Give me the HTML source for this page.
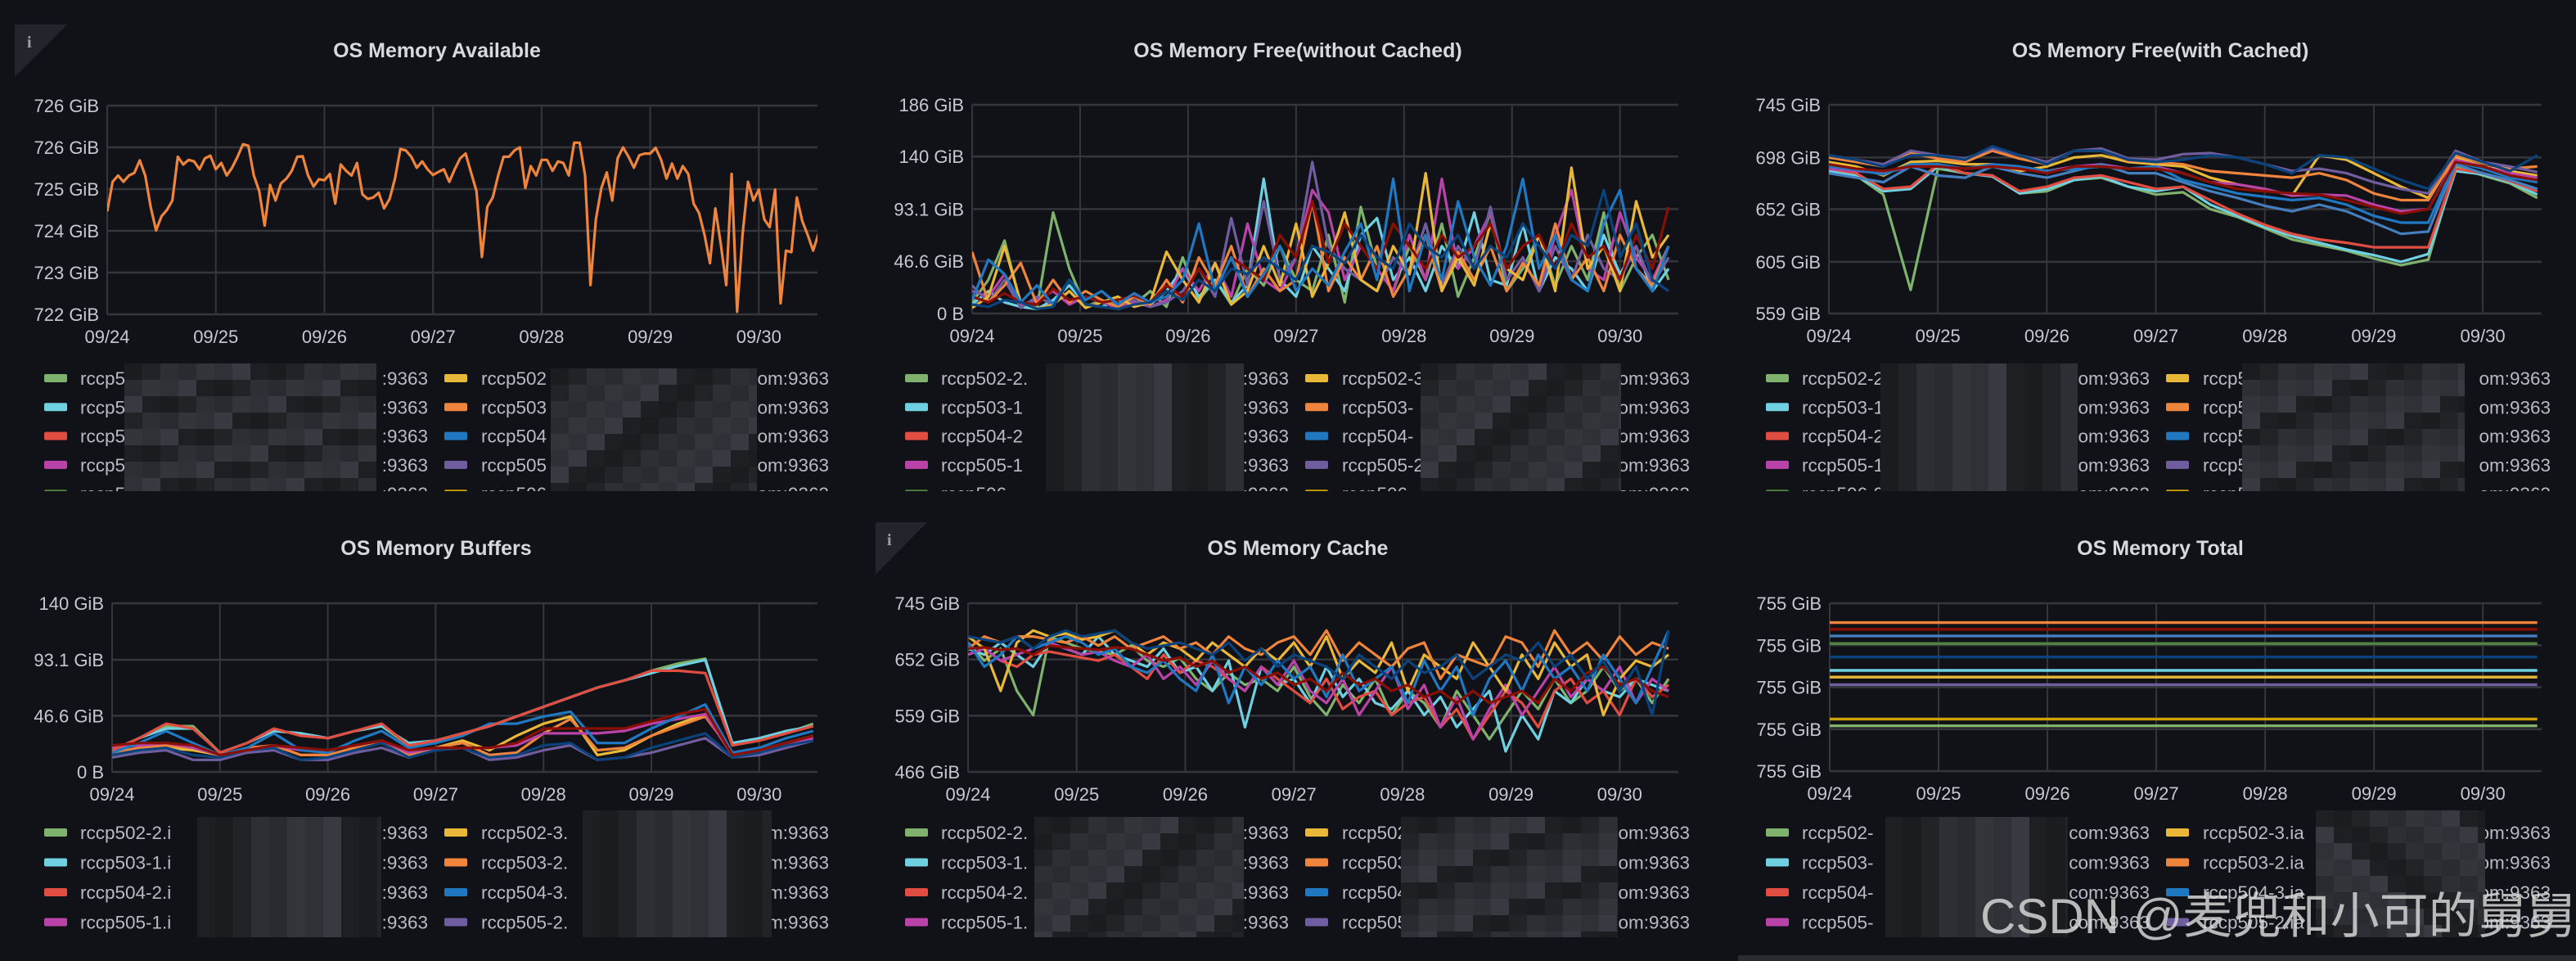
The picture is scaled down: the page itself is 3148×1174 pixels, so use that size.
<!DOCTYPE html>
<html><head><meta charset="utf-8">
<style>
html,body{margin:0;padding:0;background:#111217;}
svg{display:block;font-family:"Liberation Sans","Noto Sans CJK SC",sans-serif;}
</style></head>
<body>
<svg id="dash" width="3148" height="1174" viewBox="0 0 3148 1174" xmlns="http://www.w3.org/2000/svg">
<rect x="0" y="0" width="3148" height="1174" fill="#111217"/>
<g><path d="M18 30 L82 30 L18 94 Z" fill="#22252b"/><text x="33" y="58" font-size="20" font-weight="bold" fill="#9fa1a8" font-family="Liberation Serif, serif">i</text></g>
<g><path d="M1070 638 L1133 638 L1070 702 Z" fill="#22252b"/><text x="1084" y="666" font-size="20" font-weight="bold" fill="#9fa1a8" font-family="Liberation Serif, serif">i</text></g>
<rect x="2124" y="1167" width="1024" height="7" fill="#2a2c31"/>
</svg>
<script>
const dayLabels = ["09/24","09/25","09/26","09/27","09/28","09/29","09/30"];
const dayTicks = [0,1,2,3,4,5,6];
const spanDays = 6.54;

const availStep = 0.05;
const availValues = [723.97,724.54,724.66,724.54,724.66,724.71,724.95,724.66,724.06,723.61,723.88,724.00,724.18,725.02,724.87,724.96,724.93,724.78,724.99,725.04,724.78,724.90,724.66,724.81,725.02,725.26,725.23,724.66,724.36,723.70,724.48,724.18,724.51,724.60,724.75,725.02,725.03,724.66,724.45,724.59,724.57,724.69,724.12,724.87,724.75,724.66,724.90,724.30,724.21,724.24,724.33,724.03,724.21,724.60,725.17,725.14,725.02,724.81,724.93,724.78,724.67,724.73,724.78,724.54,724.78,724.99,725.08,724.72,724.36,723.10,724.06,724.24,724.66,725.02,725.02,725.14,725.20,724.42,724.84,724.66,724.96,724.96,724.75,724.93,724.90,724.66,725.29,725.29,724.66,722.56,723.82,724.42,724.72,724.18,724.99,725.20,725.02,724.81,725.05,725.08,725.08,725.19,724.96,724.60,724.89,724.60,724.84,724.69,724.12,723.94,723.52,722.98,724.03,723.34,722.56,724.69,722.05,723.52,724.54,724.18,724.39,723.82,723.67,724.39,722.21,723.22,723.19,724.24,723.79,723.52,723.22,723.55];
const availTickVals = [722,722.8,723.6,724.4,725.2,726];
const availTickLabels = ["722 GiB","723 GiB","724 GiB","725 GiB","726 GiB","726 GiB"];

const freeStep = 0.15;
const freeGreen = [10,30,65,8,5,90,40,6,12,4,8,20,6,50,12,30,8,40,25,60,30,20,70,10,95,40,20,60,30,80,15,50,90,20,40,70,25,60,30,90,20,50,70,30];
const freeYellow = [5,15,60,10,4,8,20,5,10,15,6,10,55,30,10,45,8,20,60,25,80,15,45,90,30,20,60,35,125,20,50,25,80,40,30,70,20,130,40,60,20,100,50,70];
const freeCyan = [8,20,10,6,4,12,25,8,6,12,10,8,20,40,15,30,10,25,120,30,15,60,40,20,70,85,30,50,20,60,40,90,30,25,80,20,50,40,20,70,35,60,20,40];
const freeOrange = [55,10,25,45,8,30,10,20,12,6,15,8,30,10,50,25,60,15,40,20,30,100,20,50,30,60,15,40,70,20,55,30,60,20,45,25,80,30,50,20,70,40,25,60];
const freeBlue = [12,48,35,10,25,8,30,12,20,8,18,10,15,30,80,20,50,15,35,60,20,40,25,55,80,30,120,20,70,30,100,50,25,60,120,40,70,30,20,80,110,40,20,60];
const freeMagenta = [20,15,35,8,12,20,8,15,10,5,10,6,12,40,20,45,15,80,30,20,50,110,90,30,60,40,20,70,30,120,40,60,90,30,50,20,70,110,40,30,90,50,30,60];
const freePurple = [25,10,30,5,15,8,20,6,10,8,12,6,10,20,40,15,85,25,100,30,50,135,60,40,30,20,50,35,80,25,60,40,95,30,50,20,60,30,70,40,30,60,25,50];
const freeDarkRed = [15,10,18,10,8,22,12,15,10,12,16,10,25,15,40,20,50,40,30,70,50,100,45,80,60,40,80,60,40,70,50,60,80,40,60,70,40,80,50,60,30,70,40,95];
const freeDarkBlue = [8,6,12,10,4,6,30,8,6,4,8,10,20,12,30,20,40,35,50,40,30,60,55,45,70,50,40,80,60,50,70,40,60,50,80,60,40,70,60,110,50,80,30,20];
const freeTickVals = [0,46.6,93.1,140,186];
const freeTickLabels = ["0 B","46.6 GiB","93.1 GiB","140 GiB","186 GiB"];

const fcStep = 0.25;
const fcGreen = [685,682,665,580,688,684,682,666,668,678,680,672,665,667,652,645,635,625,620,615,608,602,607,690,682,675,662];
const fcRed = [688,684,670,672,692,684,682,668,672,680,682,676,670,672,660,648,638,630,625,622,618,618,618,688,684,677,668];
const fcCyan = [686,682,668,670,690,684,681,666,670,678,681,672,668,672,656,646,636,628,622,616,611,605,612,686,683,676,665];
const fcYellow = [694,690,682,694,695,692,692,686,690,698,700,694,692,690,680,674,670,664,700,696,684,672,662,698,690,686,682];
const fcOrange = [698,694,690,702,697,694,704,697,692,704,704,695,694,692,686,684,682,680,684,678,666,660,660,700,693,688,690];
const fcBlue = [690,687,683,692,692,688,692,690,686,688,690,688,690,678,672,666,663,660,662,656,646,640,640,694,688,680,676];
const fcMagenta = [688,686,684,690,690,688,690,688,686,690,692,688,690,684,676,674,670,664,665,664,656,650,652,696,690,684,680];
const fcPurple = [700,696,692,704,700,697,706,700,694,704,706,697,696,701,702,698,692,686,688,684,676,670,666,704,694,690,685];
const fcDarkRed = [692,688,686,690,690,688,690,688,684,690,690,688,688,684,676,670,668,666,665,660,654,648,652,694,690,682,678];
const fcDarkBlue = [700,696,690,700,700,696,708,700,692,704,704,696,694,696,700,698,692,684,700,698,688,678,670,702,694,686,700];
const fcLightBlue = [684,680,676,690,682,680,690,684,680,686,692,684,684,676,668,662,655,650,656,650,640,630,632,692,684,678,670];
const fcTickVals = [559,605,652,698,745];
const fcTickLabels = ["559 GiB","605 GiB","652 GiB","698 GiB","745 GiB"];

const bufStep = 0.25;
const bufGreen = [18,28,38,38,16,24,34,32,28,34,38,22,26,32,38,46,54,62,70,76,84,90,94,22,26,32,40];
const bufCyan = [18,28,36,36,16,24,34,32,28,34,38,24,26,32,38,46,54,62,70,76,82,88,93,24,28,34,38];
const bufRed = [18,28,40,36,16,24,36,30,28,34,40,22,26,32,38,46,54,62,70,76,84,84,82,22,26,32,38];
const bufBlue = [16,24,34,24,14,20,32,18,16,26,34,20,24,30,40,40,46,50,24,24,36,46,56,16,20,28,34];
const bufYellow = [14,18,20,18,14,18,22,14,14,20,24,12,20,26,18,30,40,46,14,18,30,40,48,14,18,24,30];
const bufOrange = [16,20,22,20,14,20,22,14,14,20,26,14,20,24,14,16,32,44,18,20,30,38,46,16,18,24,30];
const bufDarkRed = [22,24,24,22,14,18,22,20,18,22,26,18,20,20,20,24,36,36,36,36,42,48,52,14,18,24,30];
const bufMagenta = [20,22,24,20,14,18,22,18,18,22,26,16,20,20,20,22,32,32,32,34,40,44,48,14,18,24,28];
const bufPurple = [12,16,18,10,10,16,18,10,10,16,20,12,18,20,10,12,18,22,10,12,16,22,28,12,14,20,26];
const bufDarkBlue = [14,18,20,14,12,18,20,10,12,18,24,12,18,20,12,14,22,24,10,12,20,26,32,12,16,22,26];
const bufTickVals = [0,46.6,93.1,140];
const bufTickLabels = ["0 B","46.6 GiB","93.1 GiB","140 GiB"];

const cacheStep = 0.15;
const cacheGreen = [680,650,670,600,560,690,680,670,665,660,675,650,640,655,620,600,630,610,620,600,640,590,560,610,580,620,560,600,580,540,600,560,520,560,600,570,620,580,600,640,600,620,580,620];
const cacheYellow = [690,670,600,680,700,690,695,685,690,700,680,660,680,670,650,680,660,640,670,650,680,640,690,620,650,630,680,600,660,640,620,680,640,600,660,620,680,640,660,560,620,650,640,660];
const cacheCyan = [670,660,680,660,640,680,670,660,690,660,650,640,670,630,640,600,650,540,640,610,620,580,640,590,620,580,570,600,560,590,540,570,600,500,560,520,600,580,620,600,590,620,610,600];
const cacheOrange = [670,690,680,690,690,685,680,690,675,690,670,680,690,670,680,660,690,670,660,680,690,660,700,650,680,660,640,670,680,620,660,650,640,690,680,640,700,660,680,650,690,660,680,670];
const cacheRed = [660,670,650,640,660,665,660,655,650,660,640,620,660,630,650,640,620,600,640,620,600,580,620,570,590,600,560,580,590,540,570,520,560,600,580,540,600,620,580,600,560,620,590,610];
const cacheBlue = [680,640,660,690,670,680,690,680,660,670,640,630,650,620,600,660,580,640,610,650,620,640,590,660,600,620,640,580,650,600,640,560,620,650,600,660,620,640,600,660,620,580,640,700];
const cacheMagenta = [660,670,650,660,670,680,670,660,665,650,640,660,620,640,610,650,620,600,640,610,650,600,580,620,560,600,640,570,610,540,590,520,570,610,560,600,640,590,620,600,640,580,620,600];
const cacheDarkRed = [670,672,668,670,660,675,672,670,668,672,670,660,650,655,640,650,630,640,620,630,610,620,600,630,610,620,600,610,590,600,580,600,580,590,600,580,620,600,630,640,610,620,600,590];
const cacheDarkBlue = [690,685,680,690,670,690,700,690,695,700,680,670,675,680,670,660,680,650,670,640,660,650,640,620,660,640,620,650,630,640,660,620,640,660,650,680,640,660,620,650,600,640,560,700];
const cacheTickVals = [466,559,652,745];
const cacheTickLabels = ["466 GiB","559 GiB","652 GiB","745 GiB"];

const totalValues = [755.077,755.069,755.061,755.052,755.036,755.020,755.012,755.003,754.962,754.954];
const totalTickVals = [754.9,754.95,755.0,755.05,755.1];
const totalTickLabels = ["755 GiB","755 GiB","755 GiB","755 GiB","755 GiB"];

const C = {green:"#7EB26D",yellow:"#EAB839",cyan:"#6ED0E0",orange:"#EF843C",red:"#E24D42",blue:"#1F78C1",magenta:"#BA43A9",purple:"#705DA0",dgreen:"#508642",dyellow:"#CCA300",lblue:"#447EBC",dorange:"#C15C17",dred:"#890F02",dblue:"#0A437C"};

const svg = document.getElementById('dash');
const NS = "http://www.w3.org/2000/svg";
function mk(tag, attrs, parent){ const e=document.createElementNS(NS,tag); for(const k in attrs) e.setAttribute(k,attrs[k]); (parent||svg).appendChild(e); return e; }

function drawPanel(p){
  const g = mk('g',{});
  
  
  const xs = d => p.L + d*(p.R-p.L)/spanDays;
  const ys = v => p.B - (v-p.min)/(p.max-p.min)*(p.B-p.T);
  const title = mk('text',{x:p.tx,y:p.titleY,'text-anchor':'middle','font-size':25,'font-weight':'bold',fill:'#d8d9de'},g);
  title.textContent = p.title;
  
  
  p.tickVals.forEach((v,i)=>{
    const yy = ys(v);
    const ln = mk('line',{x1:p.L,x2:p.R,y1:yy,y2:yy,stroke:'#34363b','stroke-width':2.5},g);
    
    
    const t = mk('text',{x:p.L-10,y:yy+8,'text-anchor':'end','font-size':22,fill:'#c7c9d0'},g);
    t.textContent = p.tickLabels[i];
    
    
  });
  dayTicks.forEach((d,i)=>{
    const xx = xs(d);
    const ln = mk('line',{x1:xx,x2:xx,y1:p.T,y2:p.B,stroke:'#34363b','stroke-width':2},g);
    
    
    const t = mk('text',{x:xx,y:p.B+35,'text-anchor':'middle','font-size':22,fill:'#c7c9d0'},g);
    t.textContent = dayLabels[i];
    
    
  });
  const cp = mk('clipPath',{id:'clip'+p.id},g);
  mk('rect',{x:p.L,y:p.T-6,width:p.R-p.L,height:p.B-p.T+12},cp);
  const sg = mk('g',{'clip-path':'url(#clip'+p.id+')'},g);
  p.series.forEach(s=>{
    let dstr = '';
    if (s.constant !== undefined) {
      dstr = 'M'+xs(0)+' '+ys(s.constant)+' L'+xs(6.5)+' '+ys(s.constant);
    } else {
      s.values.forEach((v,i)=>{ dstr += (i?' L':'M')+xs(i*s.step).toFixed(1)+' '+ys(v).toFixed(1); });
    }
    const path = mk('path',{d:dstr,fill:'none',stroke:s.color,'stroke-width':p.lw,'stroke-linejoin':'round'},sg);
    
    
  });
  const lg = mk('g',{'clip-path':'url(#lclip'+p.id+')'},g);
  const lcp = mk('clipPath',{id:'lclip'+p.id},g);
  mk('rect',{x:p.ox,y:p.legY-30,width:1050,height:p.legClip},lcp);
  p.legend.forEach((row,ri)=>{
    row.forEach((ent,ci)=>{
      const bx = p.ox + (ci?543:54);
      const cy = p.legY + ri*p.legGap;
      const item = mk('g',{},lg);
      
      
      mk('rect',{x:bx,y:cy-5,width:28,height:10,rx:2,fill:ent[0]},item);
      const t1 = mk('text',{x:p.ox+(ci?588:98),y:cy+8,'font-size':22.5,fill:'#b9bbc2'},item);
      t1.textContent = ent[1];
      const t2 = mk('text',{x:p.ox+(ci?1013:523),y:cy+8,'text-anchor':'end','font-size':22.5,fill:'#b9bbc2'},item);
      t2.textContent = ent[2];
    });
  });
  p.blur.forEach(b=>{
    const bl = mk('g',{},lg);
    
    
    mk('rect',{x:p.ox+b[0],y:b[2],width:b[1]-b[0],height:b[3]-b[2],fill:'#26272c'},bl);
    const shades = ['#2e2f35','#1e1f23','#34353b','#222327','#393a41','#2a2b30','#1b1c20','#303137'];
    let k=0;
    for(let yy=b[2]; yy<b[3]; yy+=20){
      for(let xx=b[0]; xx<b[1]; xx+=22){
        mk('rect',{x:p.ox+xx,y:yy,width:Math.min(22,b[1]-xx),height:Math.min(20,b[3]-yy),fill:shades[(k*5+Math.floor(yy/20))%8]},bl);
        k++;
      }
    }
  });
}

function leg(c1p,c1s,c2p,c2s){
  return [[ [C.green,c1p[0],c1s],[C.yellow,c2p[0],c2s] ],
          [ [C.cyan,c1p[1],c1s],[C.orange,c2p[1],c2s] ],
          [ [C.red,c1p[2],c1s],[C.blue,c2p[2],c2s] ],
          [ [C.magenta,c1p[3],c1s],[C.purple,c2p[3],c2s] ],
          [ [C.dgreen,c1p[4]||"rccp506-",c1s],[C.dyellow,c2p[4]||"rccp506-",c2s] ]];
}

drawPanel({id:1,name:'panel-os-memory-available',title:'OS Memory Available',tx:534,titleY:70,ox:0,L:131,R:999,T:129,B:384,min:722,max:726,
  tickVals:availTickVals,tickLabels:availTickLabels,lw:3.2,
  series:[{values:availValues,step:availStep,color:C.orange}],
  legY:462,legGap:35.3,legClip:168,
  legend:leg(["rccp5","rccp5","rccp5","rccp5","rccp5"],":9363",["rccp502","rccp503","rccp504","rccp505","rccp506"],"om:9363"),
  blur:[[152,460,444,600],[673,925,450,600]]});

drawPanel({id:2,name:'panel-os-memory-free-without-cached',title:'OS Memory Free(without Cached)',tx:1586,titleY:70,ox:1052,L:1188,R:2051,T:128,B:383,min:0,max:186,
  tickVals:freeTickVals,tickLabels:freeTickLabels,lw:3.2,
  series:[[freeGreen,C.green],[freeCyan,C.cyan],[freeMagenta,C.magenta],[freePurple,C.purple],[freeOrange,C.orange],[freeYellow,C.yellow],[freeDarkRed,C.dred],[freeBlue,C.blue],[freeDarkBlue,C.dblue]].map(a=>({values:a[0],step:freeStep,color:a[1]})),
  legY:462,legGap:35.3,legClip:168,
  legend:leg(["rccp502-2.","rccp503-1","rccp504-2","rccp505-1","rccp506-"],"om:9363",["rccp502-3","rccp503-","rccp504-","rccp505-2","rccp506-"],"om:9363"),
  blur:[[226,468,444,600],[684,929,444,600]]});

drawPanel({id:3,name:'panel-os-memory-free-with-cached',title:'OS Memory Free(with Cached)',tx:2640,titleY:70,ox:2104,L:2235,R:3106,T:128,B:383,min:559,max:745,
  tickVals:fcTickVals,tickLabels:fcTickLabels,lw:3.2,
  series:[[fcGreen,C.green],[fcCyan,C.cyan],[fcRed,C.red],[fcYellow,C.yellow],[fcOrange,C.orange],[fcPurple,C.purple],[fcMagenta,C.magenta],[fcLightBlue,C.lblue],[fcBlue,C.blue],[fcDarkRed,C.dred],[fcDarkBlue,C.dblue]].map(a=>({values:a[0],step:fcStep,color:a[1]})),
  legY:462,legGap:35.3,legClip:168,
  legend:leg(["rccp502-2.","rccp503-1.","rccp504-2.","rccp505-1.","rccp506-2."],"om:9363",["rccp502-3","rccp503-2","rccp504-3","rccp505-2","rccp506-3"],"om:9363"),
  blur:[[194,435,444,600],[636,908,444,600]]});

drawPanel({id:4,name:'panel-os-memory-buffers',title:'OS Memory Buffers',tx:533,titleY:678,ox:0,L:137,R:999,T:737,B:943,min:0,max:140,
  tickVals:bufTickVals,tickLabels:bufTickLabels,lw:3.2,
  series:[[bufPurple,C.purple],[bufYellow,C.yellow],[bufOrange,C.orange],[bufDarkBlue,C.dblue],[bufMagenta,C.magenta],[bufBlue,C.blue],[bufGreen,C.green],[bufCyan,C.cyan],[bufRed,C.red],[bufDarkRed,C.dred]].map(a=>({values:a[0],step:bufStep,color:a[1]})),
  legY:1017,legGap:36.5,legClip:160,
  legend:leg(["rccp502-2.i","rccp503-1.i","rccp504-2.i","rccp505-1.i"],"m:9363",["rccp502-3.","rccp503-2.","rccp504-3.","rccp505-2."],"om:9363").slice(0,4),
  blur:[[241,466,998,1145],[712,943,990,1145]]});

drawPanel({id:5,name:'panel-os-memory-cache',title:'OS Memory Cache',tx:1586,titleY:678,ox:1052,L:1183,R:2051,T:737,B:943,min:466,max:745,
  tickVals:cacheTickVals,tickLabels:cacheTickLabels,lw:3.2,
  series:[[cacheGreen,C.green],[cacheCyan,C.cyan],[cacheRed,C.red],[cacheMagenta,C.magenta],[cacheYellow,C.yellow],[cacheOrange,C.orange],[cacheBlue,C.blue],[cacheDarkRed,C.dred],[cacheDarkBlue,C.dblue]].map(a=>({values:a[0],step:cacheStep,color:a[1]})),
  legY:1017,legGap:36.5,legClip:160,
  legend:leg(["rccp502-2.","rccp503-1.","rccp504-2.","rccp505-1."],"com:9363",["rccp502-3.i","rccp503-2.i","rccp504-3.i","rccp505-2.i"],"om:9363").slice(0,4),
  blur:[[212,468,998,1145],[660,925,998,1145]]});

const totalColors = [C.orange,C.dred,C.lblue,C.dgreen,C.dblue,C.cyan,C.yellow,C.purple,C.dyellow,C.green];
drawPanel({id:6,name:'panel-os-memory-total',title:'OS Memory Total',tx:2640,titleY:678,ox:2104,L:2236,R:3106,T:737,B:942,min:754.9,max:755.1,
  tickVals:totalTickVals,tickLabels:totalTickLabels,lw:3.4,
  series:totalValues.map((v,i)=>({constant:v,color:totalColors[i]})),
  legY:1017,legGap:36.5,legClip:160,
  legend:leg(["rccp502-","rccp503-","rccp504-","rccp505-"],"com:9363",["rccp502-3.ia","rccp503-2.ia","rccp504-3.ia","rccp505-2.ia"],"om:9363").slice(0,4),
  blur:[[200,423,998,1145],[726,933,990,1145]]});

const wm = mk('text',{x:2420,y:1140,'font-size':60,fill:'#dcdcdc','fill-opacity':0.82});
wm.textContent = 'CSDN @麦兜和小可的舅舅';


</script>
</body></html>
